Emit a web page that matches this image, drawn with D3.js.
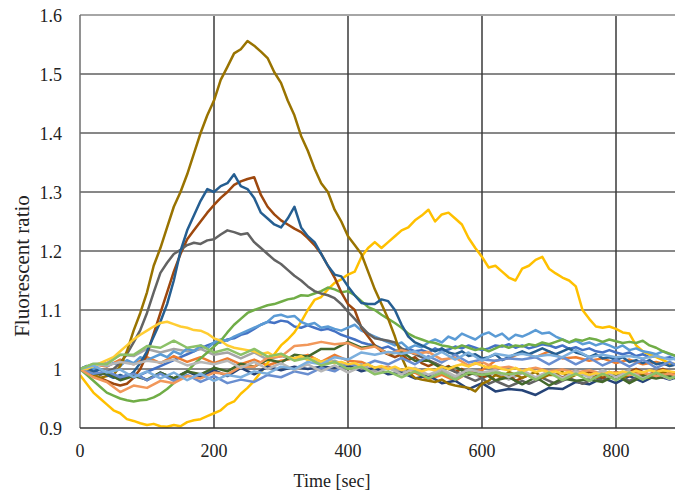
<!DOCTYPE html>
<html>
	<head>
		<meta charset="utf8" />
		<script src="https://cdn.jsdelivr.net/npm/d3@7"></script>
		<style>
			body { margin: 0; background: #fff; }
		</style>
	</head>
	<body>
		<script>
			var w = 675;
			var h = 493;

			// x sampling (sec)
			var t10 = d3.range(0, 891, 10);
			var t20 = d3.range(0, 901, 20);

			var xTicks = [0, 200, 400, 600, 800];
			var yTicks = [0.9, 1, 1.1, 1.2, 1.3, 1.4, 1.5, 1.6];
			var yTickLabels = ["0.9", "1", "1.1", "1.2", "1.3", "1.4", "1.5", "1.6"];

			// series, 10 s steps
			var darkGold = [
				1.000, 0.995, 0.990, 0.985, 0.988, 0.990, 1.005, 1.030, 1.065, 1.095,
				1.130, 1.175, 1.205, 1.240, 1.275, 1.300, 1.330, 1.365, 1.400, 1.430,
				1.455, 1.490, 1.512, 1.535, 1.542, 1.556, 1.548, 1.538, 1.527, 1.503,
				1.485, 1.455, 1.430, 1.395, 1.370, 1.340, 1.315, 1.300, 1.270, 1.250,
				1.225, 1.210, 1.195, 1.165, 1.135, 1.110, 1.085, 1.055, 1.020, 0.995,
				0.985, 0.982, 0.980, 0.978, 0.982, 0.975, 0.972, 0.970, 0.968, 0.962,
				0.975, 0.980, 0.990, 0.985, 0.995, 0.990, 0.985, 0.990, 0.995, 0.985,
				0.990, 0.990, 0.995, 0.985, 0.990, 0.995, 0.990, 0.985, 0.990, 0.995,
				0.990, 0.985, 0.990, 0.995, 0.990, 0.985, 0.990, 0.995, 0.990, 0.985
			];
			var steelBlue = [
				1.000, 1.005, 0.995, 1.000, 0.990, 0.985, 0.990, 0.985, 0.995, 1.010,
				1.030, 1.055, 1.080, 1.110, 1.150, 1.200, 1.235, 1.260, 1.285, 1.305,
				1.300, 1.310, 1.315, 1.330, 1.310, 1.305, 1.290, 1.265, 1.255, 1.245,
				1.240, 1.255, 1.275, 1.240, 1.225, 1.215, 1.195, 1.175, 1.160, 1.157,
				1.140, 1.125, 1.112, 1.110, 1.110, 1.118, 1.115, 1.100, 1.075, 1.055,
				1.045, 1.040, 1.035, 1.030, 1.035, 1.028, 1.025, 1.030, 1.022, 1.025,
				1.018, 1.020, 1.025, 1.015, 1.020, 1.025, 1.030, 1.025, 1.030, 1.035,
				1.030, 1.025, 1.030, 1.035, 1.028, 1.025, 1.020, 1.025, 1.018, 1.020,
				1.015, 1.020, 1.012, 1.015, 1.010, 1.015, 1.008, 1.010, 1.005, 1.008
			];
			var darkOrange = [
				1.000, 0.995, 0.990, 0.985, 0.980, 0.975, 0.972, 0.975, 0.985, 1.000,
				1.025, 1.060, 1.095, 1.130, 1.165, 1.195, 1.220, 1.235, 1.250, 1.265,
				1.278, 1.290, 1.300, 1.312, 1.318, 1.322, 1.325, 1.295, 1.275, 1.262,
				1.252, 1.245, 1.238, 1.232, 1.222, 1.210, 1.195, 1.175, 1.155, 1.130,
				1.110, 1.100, 1.070, 1.055, 1.040, 1.030, 1.025, 1.020, 1.025, 1.015,
				1.020, 1.010, 1.005, 1.010, 1.000, 1.005, 0.995, 1.000, 0.990, 0.995,
				0.985, 0.990, 0.980, 0.985, 0.990, 0.980, 0.985, 0.990, 0.985, 0.990,
				0.995, 0.990, 0.985, 0.990, 0.995, 0.990, 0.995, 0.990, 0.985, 0.990,
				0.995, 0.990, 0.995, 1.000, 0.995, 0.990, 0.995, 1.000, 0.995, 0.990
			];
			var darkGray = [
				1.000, 1.000, 0.995, 0.990, 0.995, 1.000, 1.010, 1.025, 1.045, 1.066,
				1.095, 1.130, 1.163, 1.180, 1.195, 1.202, 1.210, 1.214, 1.212, 1.218,
				1.220, 1.228, 1.235, 1.232, 1.228, 1.230, 1.215, 1.205, 1.195, 1.185,
				1.178, 1.168, 1.158, 1.150, 1.140, 1.132, 1.128, 1.125, 1.120, 1.110,
				1.097, 1.085, 1.072, 1.060, 1.052, 1.050, 1.048, 1.045, 1.035, 1.030,
				1.025, 1.020, 1.015, 1.010, 1.005, 1.000, 0.995, 0.990, 0.985, 0.980,
				0.985, 0.975, 0.980, 0.975, 0.970, 0.975, 0.980, 0.975, 0.980, 0.985,
				0.980, 0.975, 0.980, 0.985, 0.980, 0.975, 0.980, 0.985, 0.980, 0.985,
				0.990, 0.985, 0.980, 0.985, 0.990, 0.985, 0.990, 0.985, 0.990, 0.985
			];
			var gold = [
				0.990, 0.975, 0.960, 0.950, 0.940, 0.930, 0.925, 0.915, 0.912, 0.908,
				0.905, 0.907, 0.903, 0.902, 0.905, 0.903, 0.910, 0.913, 0.915, 0.920,
				0.925, 0.930, 0.940, 0.945, 0.958, 0.968, 0.980, 0.995, 1.010, 1.025,
				1.040, 1.050, 1.062, 1.080, 1.100, 1.117, 1.122, 1.135, 1.146, 1.152,
				1.160, 1.165, 1.190, 1.205, 1.215, 1.205, 1.215, 1.225, 1.235, 1.240,
				1.252, 1.260, 1.270, 1.250, 1.262, 1.265, 1.255, 1.245, 1.222, 1.205,
				1.190, 1.172, 1.175, 1.165, 1.155, 1.150, 1.170, 1.175, 1.185, 1.190,
				1.170, 1.162, 1.155, 1.150, 1.140, 1.100, 1.085, 1.072, 1.070, 1.072,
				1.068, 1.062, 1.060, 1.040, 1.030, 1.025, 1.020, 1.015, 1.010, 1.008
			];
			var lightBlue = [
				1.000, 1.005, 1.000, 1.010, 1.005, 1.010, 1.005, 1.015, 1.010, 1.020,
				1.015, 1.020, 1.025, 1.020, 1.030, 1.025, 1.035, 1.030, 1.040, 1.035,
				1.045, 1.050, 1.048, 1.055, 1.060, 1.065, 1.070, 1.075, 1.080, 1.090,
				1.092, 1.088, 1.090, 1.080, 1.075, 1.078, 1.070, 1.072, 1.068, 1.065,
				1.070, 1.075, 1.065, 1.060, 1.055, 1.050, 1.045, 1.040, 1.045, 1.035,
				1.040, 1.037, 1.045, 1.050, 1.045, 1.055, 1.050, 1.060, 1.055, 1.050,
				1.058, 1.062, 1.055, 1.060, 1.050, 1.058, 1.055, 1.060, 1.066, 1.060,
				1.062, 1.055, 1.050, 1.045, 1.048, 1.042, 1.045, 1.040, 1.044, 1.040,
				1.035, 1.040, 1.032, 1.035, 1.030, 1.028, 1.025, 1.030, 1.025, 1.022
			];
			var blue = [
				1.000, 0.995, 1.000, 0.990, 0.995, 0.990, 0.985, 0.990, 0.985, 0.990,
				0.995, 1.000, 1.005, 1.010, 1.015, 1.020, 1.025, 1.030, 1.035, 1.040,
				1.044, 1.045, 1.050, 1.052, 1.058, 1.061, 1.068, 1.075, 1.080, 1.078,
				1.082, 1.080, 1.072, 1.070, 1.074, 1.070, 1.066, 1.068, 1.064, 1.058,
				1.054, 1.050, 1.045, 1.042, 1.040, 1.035, 1.038, 1.032, 1.030, 1.035,
				1.030, 1.032, 1.028, 1.035, 1.030, 1.033, 1.038, 1.035, 1.040, 1.036,
				1.032, 1.035, 1.040, 1.038, 1.042, 1.036, 1.040, 1.035, 1.038, 1.042,
				1.040, 1.036, 1.040, 1.034, 1.037, 1.032, 1.035, 1.030, 1.028, 1.032,
				1.028, 1.025, 1.028, 1.022, 1.025, 1.020, 1.022, 1.018, 1.020, 1.016
			];
			var green = [
				1.000, 0.990, 0.980, 0.970, 0.960, 0.955, 0.950, 0.947, 0.945, 0.947,
				0.948, 0.952, 0.958, 0.966, 0.976, 0.986, 0.996, 1.008, 1.018, 1.028,
				1.038, 1.048, 1.062, 1.075, 1.085, 1.095, 1.100, 1.104, 1.108, 1.110,
				1.114, 1.118, 1.120, 1.125, 1.124, 1.128, 1.132, 1.138, 1.135, 1.130,
				1.132, 1.125, 1.115, 1.105, 1.100, 1.092, 1.085, 1.078, 1.070, 1.060,
				1.054, 1.050, 1.046, 1.044, 1.040, 1.038, 1.035, 1.040, 1.036, 1.032,
				1.035, 1.030, 1.035, 1.040, 1.036, 1.040, 1.038, 1.042, 1.040, 1.045,
				1.042, 1.046, 1.050, 1.045, 1.050, 1.048, 1.052, 1.050, 1.046, 1.050,
				1.047, 1.044, 1.046, 1.044, 1.048, 1.040, 1.036, 1.030, 1.026, 1.022
			];
			var yellow = [
				1.000, 1.000, 1.005, 1.010, 1.015, 1.020, 1.030, 1.040, 1.050, 1.058,
				1.065, 1.072, 1.078, 1.080, 1.076, 1.072, 1.070, 1.066, 1.065, 1.060,
				1.052, 1.048, 1.040, 1.036, 1.034, 1.032, 1.030, 1.025, 1.028, 1.022,
				1.025, 1.020, 1.018, 1.022, 1.015, 1.018, 1.012, 1.015, 1.010, 1.012,
				1.008, 1.010, 1.005, 1.008, 1.002, 1.005, 1.000, 1.004, 0.998, 1.002,
				1.000, 0.996, 1.000, 0.998, 1.004, 1.000, 1.005, 1.008, 1.004, 1.010,
				1.006, 1.002, 1.005, 1.000, 0.998, 1.002, 0.996, 1.000, 0.995, 0.998,
				0.994, 0.996, 0.992, 0.995, 0.990, 0.994, 0.990, 0.993, 0.990, 0.995,
				0.992, 0.996, 0.993, 0.997, 0.994, 0.998, 0.995, 0.998, 0.996, 0.994
			];

			// flatter series, 20 s steps
			var orange = [
				1.000, 1.008, 1.004, 1.016, 1.008, 1.020, 1.010, 1.022, 1.012, 1.020,
				1.010, 1.018, 1.008, 1.016, 1.006, 1.014, 1.018, 1.024, 1.012, 1.024,
				1.014, 1.012, 1.002, 1.004, 0.992, 0.994, 0.982, 0.990, 0.980, 0.994,
				0.998, 1.014, 1.018, 1.028, 1.020, 1.030, 1.018, 1.020, 1.014, 1.018,
				1.010, 1.016, 1.008, 1.012, 1.006, 1.010
			];
			var gray = [
				1.000, 1.008, 1.010, 1.024, 1.022, 1.034, 1.028, 1.034, 1.030, 1.034,
				1.024, 1.028, 1.018, 1.028, 1.016, 1.022, 1.016, 1.019, 1.008, 1.014,
				1.004, 1.008, 0.996, 1.002, 0.996, 0.999, 0.988, 0.998, 0.986, 0.996,
				0.984, 0.994, 0.982, 0.993, 0.984, 0.996, 0.986, 0.998, 0.986, 0.998,
				0.988, 0.999, 0.986, 0.997, 0.987, 0.995
			];
			var darkBlue = [
				1.000, 0.992, 0.993, 0.982, 0.993, 0.981, 0.994, 0.984, 0.996, 0.986,
				0.998, 0.988, 1.002, 0.991, 1.004, 0.998, 1.004, 1.000, 1.004, 1.002,
				1.006, 0.996, 1.002, 0.991, 0.994, 0.984, 0.989, 0.976, 0.980, 0.966,
				0.976, 0.962, 0.966, 0.964, 0.956, 0.968, 0.966, 0.978, 0.974, 0.985,
				0.976, 0.988, 0.978, 0.989, 0.982, 0.990
			];
			var darkGreen = [
				1.000, 0.992, 0.993, 0.981, 0.988, 0.982, 0.994, 0.984, 0.996, 0.991,
				1.002, 0.996, 1.009, 1.004, 1.016, 1.011, 1.024, 1.021, 1.034, 1.034,
				1.046, 1.036, 1.039, 1.026, 1.029, 1.014, 1.014, 1.001, 1.004, 0.991,
				0.994, 0.981, 0.986, 0.974, 0.986, 0.972, 0.984, 0.980, 0.982, 0.978,
				0.990, 0.976, 0.988, 0.984, 0.989, 0.978
			];
			var midBlue = [
				1.000, 0.992, 0.996, 0.986, 0.992, 0.981, 0.992, 0.980, 0.990, 0.978,
				0.988, 0.976, 0.982, 0.978, 0.990, 0.986, 0.996, 0.991, 1.002, 0.996,
				1.009, 1.004, 1.014, 1.008, 1.019, 1.008, 1.022, 1.011, 1.024, 1.011,
				1.016, 1.014, 1.018, 1.016, 1.020, 1.008, 1.020, 1.008, 1.019, 1.006,
				1.016, 1.004, 1.016, 1.002, 1.012, 1.001
			];
			var salmon = [
				1.000, 0.986, 0.978, 0.961, 0.972, 0.968, 0.980, 0.976, 0.988, 0.984,
				0.994, 0.991, 1.004, 1.004, 1.019, 1.021, 1.039, 1.041, 1.046, 1.042,
				1.044, 1.034, 1.038, 1.026, 1.032, 1.026, 1.029, 1.016, 1.019, 1.006,
				1.012, 1.001, 1.004, 0.998, 1.002, 0.996, 0.999, 0.994, 0.998, 0.992,
				0.994, 0.990, 0.994, 0.988, 0.992, 0.986
			];
			var lightGray = [
				1.000, 1.008, 1.006, 1.012, 1.008, 1.014, 1.011, 1.016, 1.006, 1.012,
				1.008, 1.014, 1.002, 1.012, 1.000, 1.010, 0.998, 1.008, 0.996, 1.006,
				0.994, 1.004, 0.992, 1.002, 0.991, 1.002, 0.990, 1.000, 0.988, 0.999,
				0.994, 0.998, 0.986, 0.998, 0.986, 0.996, 0.984, 0.996, 0.986, 0.998,
				0.986, 0.996, 0.984, 0.994, 0.983, 0.994
			];
			var paleBlue = [
				1.000, 1.006, 0.994, 0.999, 0.986, 0.996, 0.984, 0.994, 0.981, 0.992,
				0.980, 0.990, 0.986, 0.996, 0.992, 1.004, 1.000, 1.012, 1.008, 1.020,
				1.016, 1.028, 1.024, 1.029, 1.026, 1.030, 1.018, 1.029, 1.016, 1.028,
				1.014, 1.026, 1.022, 1.026, 1.021, 1.024, 1.020, 1.032, 1.020, 1.024,
				1.020, 1.022, 1.018, 1.022, 1.016, 1.020
			];
			var lightGreen = [
				1.000, 1.009, 1.008, 1.024, 1.024, 1.039, 1.036, 1.048, 1.036, 1.040,
				1.028, 1.034, 1.024, 1.034, 1.021, 1.026, 1.014, 1.019, 1.006, 1.012,
				1.000, 1.004, 0.991, 0.996, 0.986, 0.996, 0.984, 0.994, 0.982, 0.994,
				0.990, 0.994, 0.991, 0.994, 0.982, 0.994, 0.981, 0.992, 0.980, 0.992,
				0.981, 0.994, 0.982, 0.994, 0.984, 0.990
			];

			// drawing order as in the spreadsheet
			var series = [
				{ t: t10, v: blue, c: "#4472C4" },
				{ t: t20, v: orange, c: "#ED7D31" },
				{ t: t20, v: gray, c: "#A5A5A5" },
				{ t: t10, v: gold, c: "#FFC000" },
				{ t: t10, v: lightBlue, c: "#5B9BD5" },
				{ t: t10, v: green, c: "#70AD47" },
				{ t: t20, v: darkBlue, c: "#264478" },
				{ t: t10, v: darkOrange, c: "#9E480E" },
				{ t: t10, v: darkGray, c: "#636363" },
				{ t: t10, v: darkGold, c: "#997300" },
				{ t: t10, v: steelBlue, c: "#255E91" },
				{ t: t20, v: darkGreen, c: "#43682B" },
				{ t: t20, v: midBlue, c: "#698ED0" },
				{ t: t20, v: salmon, c: "#F1975A" },
				{ t: t20, v: lightGray, c: "#B7B7B7" },
				{ t: t10, v: yellow, c: "#FFCD33" },
				{ t: t20, v: paleBlue, c: "#7CAFDD" },
				{ t: t20, v: lightGreen, c: "#8CC168" }
			];

			var x = d3.scaleLinear().domain([0, 900]).range([80, 683]);
			var y = d3.scaleLinear().domain([0.9, 1.6]).range([428, 15]);

			var svg = d3.select("body")
						.append("svg")
						.attr("width", w)
						.attr("height", h)
						.attr("font-family", "'Liberation Serif', 'Times New Roman', serif");

			svg.append("clipPath").attr("id", "plot")
			   .append("rect")
			   .attr("x", 80).attr("y", 15)
			   .attr("width", w - 80).attr("height", 413);

			// grid
			svg.selectAll("line.hgrid")
			   .data(yTicks.slice(1, -1))
			   .enter().append("line")
			   .attr("x1", 80).attr("x2", w)
			   .attr("y1", function(d) { return y(d); })
			   .attr("y2", function(d) { return y(d); })
			   .attr("stroke", "#111").attr("stroke-width", 1);

			svg.selectAll("line.vgrid")
			   .data(xTicks.slice(1))
			   .enter().append("line")
			   .attr("x1", function(d) { return x(d); })
			   .attr("x2", function(d) { return x(d); })
			   .attr("y1", 15).attr("y2", 428)
			   .attr("stroke", "#3a3a3a").attr("stroke-width", 1.5);

			svg.append("line")
			   .attr("x1", 80).attr("x2", w)
			   .attr("y1", y(1.6)).attr("y2", y(1.6))
			   .attr("stroke", "#a6a6a6").attr("stroke-width", 2);

			// lines
			var line = d3.line()
						 .x(function(d) { return x(d[0]); })
						 .y(function(d) { return y(d[1]); });

			svg.append("g").attr("clip-path", "url(#plot)")
			   .selectAll("path")
			   .data(series)
			   .enter().append("path")
			   .attr("d", function(s) { return line(d3.zip(s.t, s.v)); })
			   .attr("fill", "none")
			   .attr("stroke", function(s) { return s.c; })
			   .attr("stroke-width", 2.5)
			   .attr("stroke-linejoin", "round");

			// axes
			svg.append("line")
			   .attr("x1", 80).attr("x2", 80)
			   .attr("y1", 15).attr("y2", 428)
			   .attr("stroke", "#6e6e6e").attr("stroke-width", 1.5);
			svg.append("line")
			   .attr("x1", 80).attr("x2", w)
			   .attr("y1", 428).attr("y2", 428)
			   .attr("stroke", "#333").attr("stroke-width", 1.5);

			svg.selectAll("text.ytick")
			   .data(yTicks)
			   .enter().append("text")
			   .attr("x", 62)
			   .attr("y", function(d) { return y(d) + 1; })
			   .attr("dy", "0.35em")
			   .attr("text-anchor", "end")
			   .attr("font-size", 18)
			   .attr("fill", "#222")
			   .text(function(d, i) { return yTickLabels[i]; });

			svg.selectAll("text.xtick")
			   .data(xTicks)
			   .enter().append("text")
			   .attr("x", function(d) { return x(d); })
			   .attr("y", 457)
			   .attr("text-anchor", "middle")
			   .attr("font-size", 18)
			   .attr("fill", "#222")
			   .text(function(d) { return d; });

			svg.append("text")
			   .attr("x", 332).attr("y", 487)
			   .attr("text-anchor", "middle")
			   .attr("font-size", 18)
			   .attr("fill", "#222")
			   .text("Time [sec]");

			svg.append("text")
			   .attr("transform", "translate(29,266) rotate(-90)")
			   .attr("text-anchor", "middle")
			   .attr("font-size", 21)
			   .attr("fill", "#222")
			   .text("Fluorescent ratio");
		</script>
	</body>
</html>
